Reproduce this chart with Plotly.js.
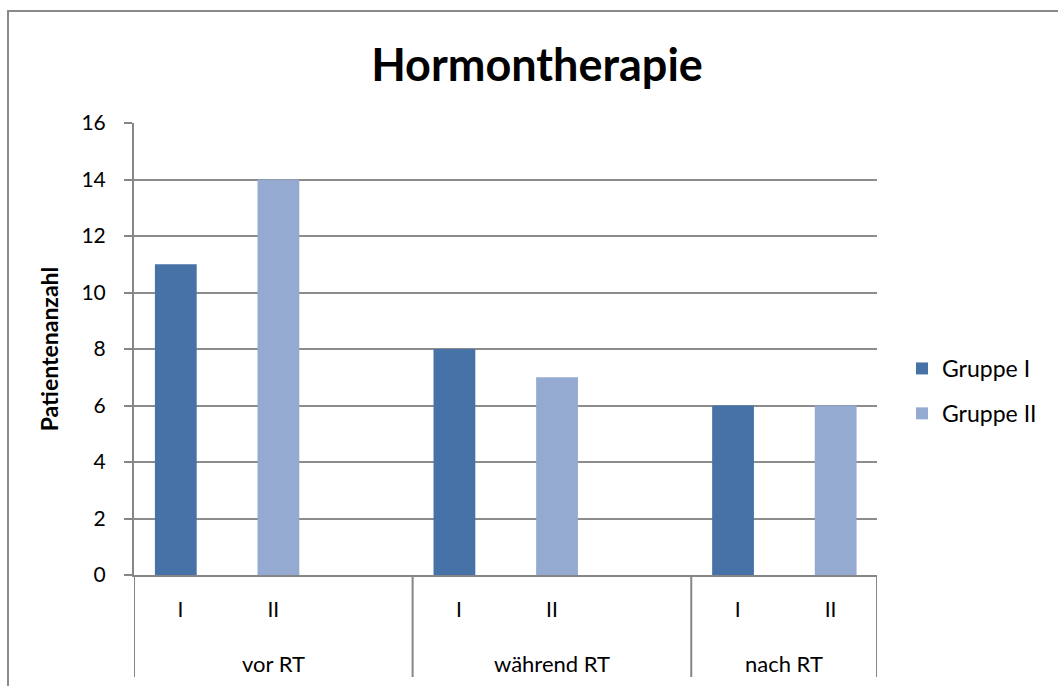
<!DOCTYPE html>
<html>
<head>
<meta charset="utf-8">
<script src="https://cdn.plot.ly/plotly-3.0.1.min.js"></script>
<style>
html,body{margin:0;padding:0;background:#fff;}
#wrap{position:relative;width:1058px;height:686px;overflow:hidden;}
#chart{position:absolute;left:0;top:0;width:1058px;height:686px;}
#frame{position:absolute;left:7px;top:10px;width:1060px;height:690px;border-left:2px solid #8a8a8a;border-top:2px solid #8a8a8a;pointer-events:none;}
</style>
</head>
<body>
<div id="wrap"><div id="chart"></div><div id="frame"></div></div>
<script>
// Data
const phases = ["vor RT","vor RT","vor RT","während RT","während RT","während RT","nach RT","nach RT"];
const groupsLbl = ["I","II","","I","II","","I","II"];
const gruppeI  = [11, null, null, 8, null, null, 6, null];
const gruppeII = [null, 14, null, null, 7, null, null, 6];
const seriesNames = ["Gruppe I","Gruppe II"];
const chartTitle = "Hormontherapie";
const yTitle = "Patientenanzahl";

const FONT = "Lato, 'Open Sans', sans-serif";
const idx = phases.map((_, i) => i);

// phase groups -> label centres and divider positions
const phaseNames = [], phaseCenters = [], dividers = [-0.5];
let start = 0;
for (let i = 1; i <= phases.length; i++) {
  if (i === phases.length || phases[i] !== phases[start]) {
    phaseNames.push(phases[start]);
    phaseCenters.push((start + i - 1) / 2);
    dividers.push(i - 0.5);
    start = i;
  }
}

const traces = [
  {type:"bar", name:seriesNames[0], x:idx, y:gruppeI,
   marker:{color:"#4672A8"}, width:0.45, offset:-0.275, legendgroup:"a", hoverinfo:"y"},
  {type:"bar", name:seriesNames[1], x:idx, y:gruppeII,
   marker:{color:"#94AAD1"}, width:0.45, offset:-0.17, legendgroup:"b", hoverinfo:"y"}
];

const divBottom = -(677 - 575) / 452;
const shapes = dividers.map(d => ({type:"line", xref:"x", yref:"paper", x0:d, x1:d, y0:0, y1:divBottom,
  line:{color:"#868686", width:2}}));
const annotations = phaseNames.map((n, k) => ({xref:"x", yref:"paper", x:phaseCenters[k], y:-(663 - 575) / 452,
  text:n, showarrow:false, xanchor:"center", yanchor:"middle", font:{family:FONT, size:22, color:"#000"}}));

const layout = {
  width:1058, height:686,
  margin:{l:134, r:181, t:123, b:111},
  paper_bgcolor:"#ffffff", plot_bgcolor:"#ffffff",
  barmode:"overlay",
  font:{family:FONT, size:22, color:"#000"},
  title:{text:"<b>"+chartTitle+"</b>", font:{family:FONT, size:45, color:"#000"},
         x:537/1058, xanchor:"center", y:1-65/686, yanchor:"middle", yref:"container"},
  xaxis:{range:[-0.5, phases.length - 0.5], tickmode:"array", tickvals:idx, ticktext:groupsLbl,
         showgrid:false, zeroline:false, showline:true, linecolor:"#868686", linewidth:2,
         ticks:"", ticklabelstandoff:15, tickfont:{family:FONT, size:21, color:"#000"}},
  yaxis:{range:[0,16], dtick:2, tick0:0, showgrid:true, gridcolor:"#8c8c8c", gridwidth:2,
         showline:true, linecolor:"#868686", linewidth:2, ticks:"outside", ticklen:8,
         tickcolor:"#868686", tickwidth:2, zeroline:false, ticklabelstandoff:14,
         tickfont:{family:FONT, size:21, color:"#000"},
         title:{text:"<b>"+yTitle+"</b>", font:{family:FONT, size:23, color:"#000"}, standoff:16}},
  legend:{x:(902-134)/743, xanchor:"left", y:(575-347)/452, yanchor:"top",
          font:{family:FONT, size:23, color:"#000"}, tracegroupgap:12, bgcolor:"rgba(0,0,0,0)"},
  shapes:shapes,
  annotations:annotations,
  showlegend:true
};
Plotly.newPlot("chart", traces, layout, {displayModeBar:false, staticPlot:true});
</script>
</body>
</html>
